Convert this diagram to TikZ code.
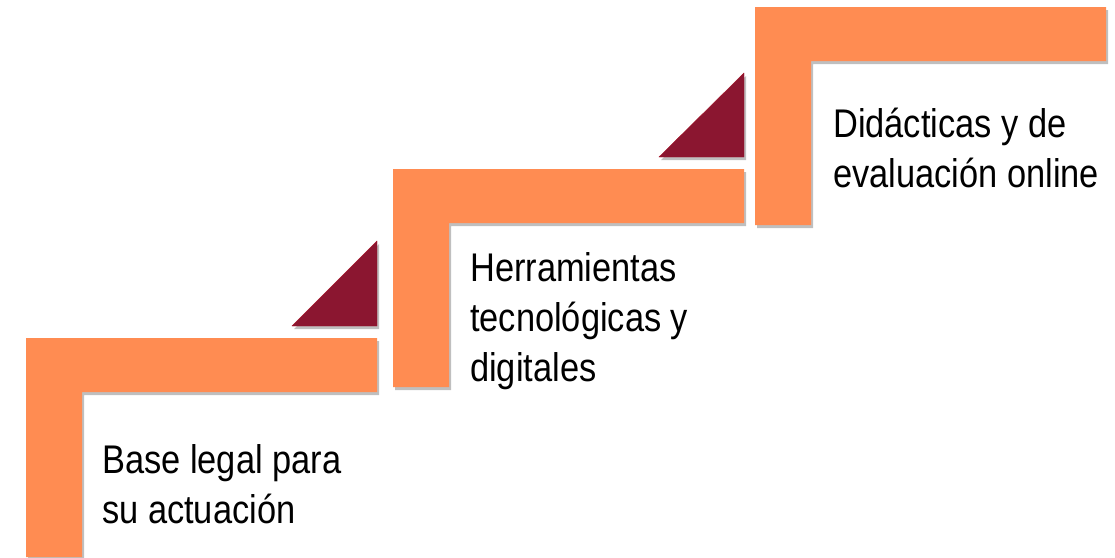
\documentclass[tikz,border=0pt]{standalone}
\usepackage{fontspec}
\setmainfont{Liberation Sans}[FakeStretch=0.86]
\usetikzlibrary{shadows}
\definecolor{stepor}{RGB}{255,140,82}
\definecolor{stepmr}{RGB}{139,22,48}
\tikzset{
  lbar/.style={fill=stepor, draw=none, drop shadow={shadow xshift=2pt, shadow yshift=-3pt, opacity=0.25, fill=black}},
  tri/.style={fill=stepmr, draw=stepmr!80!red, line width=0.4pt, drop shadow={shadow xshift=2pt, shadow yshift=-3pt, opacity=0.25, fill=black}},
  lbl/.style={anchor=base west, inner sep=0pt, align=left, font=\fontsize{40}{50}\selectfont}
}
\begin{document}
\begin{tikzpicture}[x=1pt,y=-1pt]
\useasboundingbox (0,0) rectangle (1115,557);
% steps
\path[lbar] (26,338) -- (377,338) -- (377,392) -- (82,392) -- (82,557) -- (26,557) -- cycle;
\path[lbar] (393,169) -- (744,169) -- (744,223) -- (449,223) -- (449,387) -- (393,387) -- cycle;
\path[lbar] (755,7) -- (1106,7) -- (1106,61) -- (811,61) -- (811,225) -- (755,225) -- cycle;
% triangles
\path[tri] (292,326) -- (377,326) -- (377,241) -- cycle;
\path[tri] (659,157) -- (744,157) -- (744,73) -- cycle;
% labels (anchor at baseline of last line)
\node[lbl] (t1) at (102,523) {Base legal para\\su actuación};
\node[lbl] (t2) at (470,381) {Herramientas\\tecnológicas y\\digitales};
\node[lbl] (t3) at (833,187) {Didácticas y de\\evaluación online};
\end{tikzpicture}
\end{document}
